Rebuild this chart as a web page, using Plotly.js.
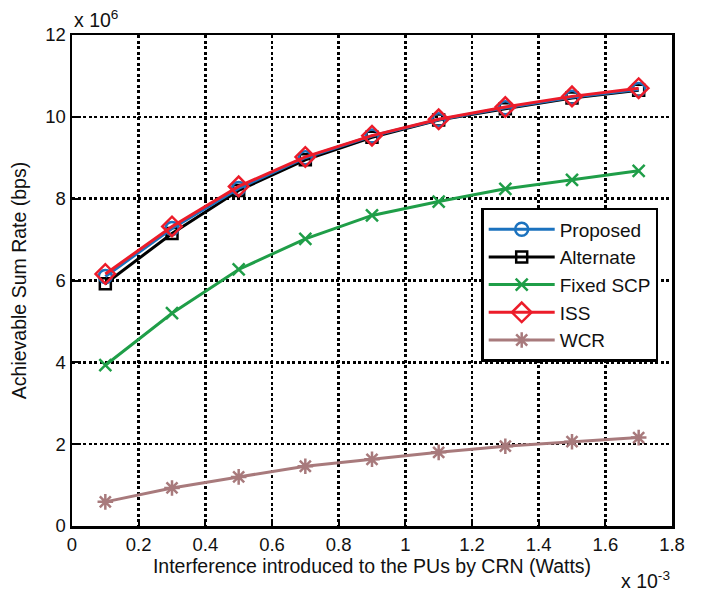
<!DOCTYPE html>
<html>
<head>
<meta charset="utf-8">
<script src="https://cdn.plot.ly/plotly-3.0.1.min.js"></script>
<style>html,body{margin:0;padding:0;background:#fff;}#chart{width:715px;height:594px;}</style>
</head>
<body>
<div id="chart"></div>
<script>
// x in units of 10^-3 W, y in units of 10^6 bps
var interference = [0.1, 0.3, 0.5, 0.7, 0.9, 1.1, 1.3, 1.5, 1.7];
var proposed  = [6.10, 7.27, 8.25, 9.00, 9.53, 9.93, 10.22, 10.48, 10.67];
var alternate = [5.92, 7.15, 8.20, 8.95, 9.50, 9.92, 10.20, 10.46, 10.65];
var fixedSCP  = [3.93, 5.20, 6.27, 7.02, 7.59, 7.93, 8.24, 8.46, 8.68];
var iss       = [6.16, 7.32, 8.30, 9.02, 9.54, 9.94, 10.24, 10.50, 10.70];
var wcr       = [0.59, 0.93, 1.20, 1.46, 1.63, 1.80, 1.95, 2.06, 2.16];
var xTicks = [0, 0.2, 0.4, 0.6, 0.8, 1, 1.2, 1.4, 1.6, 1.8];
var yTicks = [0, 2, 4, 6, 8, 10, 12];

function tr(name, y, color, symbol, rank, size) {
  return {
    x: interference, y: y, name: name, type: 'scatter', mode: 'lines+markers',
    line: {color: color, width: 3},
    marker: {symbol: symbol, size: size || 11, color: color, line: {color: color, width: 2.5}},
    legendrank: rank
  };
}
var data = [
  tr('Alternate', alternate, '#000000', 'square-open', 2, 11),
  tr('Proposed', proposed, '#1b72be', 'circle-open', 1, 13),
  tr('Fixed SCP', fixedSCP, '#1f9e48', 'x-thin-open', 3, 12),
  tr('WCR', wcr, '#a87a7c', 'asterisk-open', 5, 13),
  tr('ISS', iss, '#ec1c2a', 'diamond-open', 4, 15)
];

var fam = 'Liberation Sans, Arial, sans-serif';
var tickFont = {family: fam, size: 18.5, color: '#111'};
var titleFont = {family: fam, size: 19.5, color: '#111'};
var layout = {
  width: 715, height: 594,
  margin: {l: 72, r: 43, t: 35, b: 68},
  paper_bgcolor: '#fff', plot_bgcolor: '#fff',
  font: {family: fam, size: 19, color: '#111'},
  showlegend: true,
  legend: {
    x: 0.682, y: 0.648, xanchor: 'left', yanchor: 'top',
    bgcolor: '#fff', bordercolor: '#000', borderwidth: 2.5,
    font: {family: fam, size: 19, color: '#111'},
    itemwidth: 66, tracegroupgap: 0
  },
  xaxis: {
    range: [0, 1.8], tickvals: xTicks, ticktext: xTicks.map(String), tickfont: tickFont,
    showline: true, mirror: true, linecolor: '#000', linewidth: 2.5,
    ticks: 'inside', ticklen: 6, tickwidth: 2, tickcolor: '#000',
    showgrid: true, gridcolor: '#000', gridwidth: 2.5, griddash: '3px,2.5px',
    zeroline: false,
    title: {text: 'Interference introduced to the PUs by CRN (Watts)', standoff: 6, font: titleFont}
  },
  yaxis: {
    range: [0, 12], tickvals: yTicks, ticktext: yTicks.map(String), tickfont: tickFont,
    showline: true, mirror: true, linecolor: '#000', linewidth: 2.5,
    ticks: 'inside', ticklen: 6, tickwidth: 2, tickcolor: '#000',
    showgrid: true, gridcolor: '#000', gridwidth: 2.5, griddash: '3px,2.5px',
    zeroline: false,
    title: {text: 'Achievable Sum Rate (bps)', standoff: 14, font: titleFont}
  },
  annotations: [
    {xref: 'paper', yref: 'paper', x: 0, y: 1, xanchor: 'left', yanchor: 'bottom', yshift: 2, xshift: 0,
     text: 'x 10<sup>6</sup>', showarrow: false, font: {family: fam, size: 19.5, color: '#111'}},
    {xref: 'paper', yref: 'paper', x: 1, y: 0, xanchor: 'right', yanchor: 'top', yshift: -40, xshift: 0,
     text: 'x 10<sup>-3</sup>', showarrow: false, font: {family: fam, size: 19.5, color: '#111'}}
  ]
};
Plotly.newPlot('chart', data, layout, {displayModeBar: false, staticPlot: true});
</script>
</body>
</html>
